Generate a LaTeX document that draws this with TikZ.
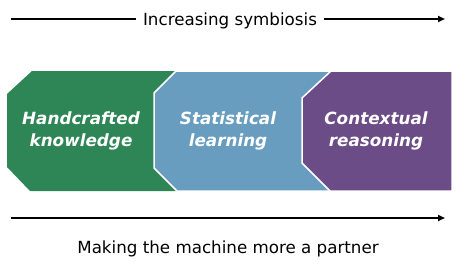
\documentclass[tikz,border=0pt]{standalone}
\usepackage{fontspec}
\setmainfont{DejaVu Sans}
\usetikzlibrary{positioning,arrows.meta}
\definecolor{craftgreen}{RGB}{46,133,85}
\definecolor{statblue}{RGB}{104,157,191}
\definecolor{ctxpurple}{RGB}{107,76,134}

\begin{document}
\begin{tikzpicture}[
  x=1pt, y=-1pt,
  stage/.style={draw=white, line width=1.5pt},
  stagetext/.style={text=white, font=\fontsize{16.8}{22}\selectfont\bfseries\itshape, align=center, inner sep=0pt},
  axistext/.style={font=\fontsize{16.7}{20}\selectfont, inner ysep=2pt, inner xsep=7pt},
  trend/.style={line width=1.8pt},
  trendarrow/.style={trend, -{Triangle[length=7pt,width=6pt]}}
]
  \useasboundingbox (0,0) rectangle (465,273);

  % stages, back to front
  \fill[craftgreen] (32,71) -- (200,71) -- (200,191) -- (30,191) -- (7,167) -- (7,94) -- cycle;
  \filldraw[stage, fill=statblue] (176,71) -- (340,71) -- (340,191) -- (177,191) -- (154,168) -- (154,93) -- cycle;
  \filldraw[stage, fill=ctxpurple] (331,71) -- (452,71) -- (452,191) -- (330,191) -- (302,163) -- (302,98) -- cycle;

  \node[stagetext] (craft) at (81,131) {Handcrafted\\knowledge};
  \node[stagetext] (stat) at (228,131) {Statistical\\learning};
  \node[stagetext] (ctx) at (376,131) {Contextual\\reasoning};

  % top arrow
  \coordinate (symb start) at (11,19);
  \coordinate (symb end) at (445,19);
  \node[axistext, anchor=base] (symb) at (230,25) {Increasing symbiosis};
  \draw[trend] (symb start) -- (symb start -| symb.west);
  \draw[trendarrow] (symb.east |- symb start) -- (symb end);

  % bottom arrow
  \coordinate (part start) at (11,218);
  \coordinate (part end) at (445,218);
  \draw[trendarrow] (part start) -- (part end);
  \node[axistext, anchor=base] (part) at (228,253) {Making the machine more a partner};
\end{tikzpicture}
\end{document}
